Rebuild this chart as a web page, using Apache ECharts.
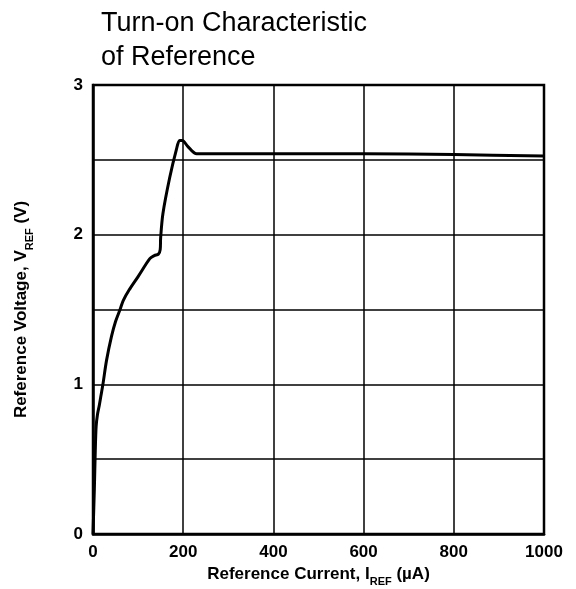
<!DOCTYPE html>
<html>
<head>
<meta charset="utf-8">
<script src="https://cdn.jsdelivr.net/npm/echarts@6/dist/echarts.min.js"></script>
<style>html,body{margin:0;padding:0;background:#fff;}#c{width:576px;height:589px;}</style>
</head>
<body>
<div id="c"></div>
<script>
const current = [0, 3, 5, 7, 10, 14, 18, 22, 30, 41, 50, 60, 67, 80, 100, 126, 136, 145, 149, 150, 155, 170, 185, 192, 198, 210, 230, 400, 600, 800, 1000];
const voltage = [0, 0.3, 0.55, 0.72, 0.8, 0.86, 0.93, 1.0, 1.16, 1.32, 1.42, 1.5, 1.56, 1.63, 1.72, 1.84, 1.86, 1.87, 1.9, 1.98, 2.14, 2.38, 2.57, 2.63, 2.63, 2.59, 2.54, 2.54, 2.54, 2.535, 2.525];
const xTicks = [0, 200, 400, 600, 800, 1000];
const yTicks = [0, 1, 2, 3];

const font = '"Liberation Sans", Arial, Helvetica, sans-serif';
const chart = echarts.init(document.getElementById('c'), null, {renderer: 'canvas'});
const subStyle = {fontFamily: font, fontSize: 11, fontWeight: 'bold', color: '#000', verticalAlign: 'bottom', padding: [0,0,-5,0]};
chart.setOption({
  animation: false,
  backgroundColor: '#fff',
  title: {
    text: 'Turn-on Characteristic\nof Reference',
    left: 96, top: 2,
    textStyle: {fontFamily: font, fontSize: 27, fontWeight: 'normal', color: '#000', lineHeight: 34}
  },
  grid: {left: 93, right: 32, top: 85, bottom: 55, show: true, borderColor: '#000', borderWidth: 2.5, outerBoundsMode: 'none', containLabel: false},
  xAxis: {
    type: 'value', min: 0, max: 1000, interval: 200,
    name: 'Reference Current, I{sub|REF} (µA)', nameLocation: 'middle', nameGap: 26,
    nameTextStyle: {fontFamily: font, fontSize: 17, fontWeight: 'bold', color: '#000', rich: {sub: subStyle}},
    axisLine: {show: true, lineStyle: {color: '#000', width: 2.5}},
    axisTick: {show: false},
    axisLabel: {fontFamily: font, fontSize: 17, fontWeight: 'bold', color: '#000', margin: 10,
      formatter: v => xTicks.includes(v) ? String(v) : ''},
    splitLine: {show: true, lineStyle: {color: '#000', width: 1.5}}
  },
  yAxis: {
    type: 'value', min: 0, max: 3, interval: 0.5,
    name: 'Reference Voltage, V{sub|REF} (V)', nameLocation: 'middle', nameGap: 63, nameRotate: 90,
    nameTextStyle: {fontFamily: font, fontSize: 17, fontWeight: 'bold', color: '#000', rich: {sub: subStyle}},
    axisLine: {show: true, lineStyle: {color: '#000', width: 2.5}},
    axisTick: {show: false},
    axisLabel: {fontFamily: font, fontSize: 17, fontWeight: 'bold', color: '#000', margin: 10,
      formatter: v => yTicks.includes(v) ? String(v) : ''},
    splitLine: {show: true, lineStyle: {color: '#000', width: 1.5}}
  },
  series: [{
    type: 'line',
    data: current.map((c, i) => [c, voltage[i]]),
    showSymbol: false,
    smooth: 0.3,
    lineStyle: {color: '#000', width: 3},
    z: 5
  }]
});
</script>
</body>
</html>
